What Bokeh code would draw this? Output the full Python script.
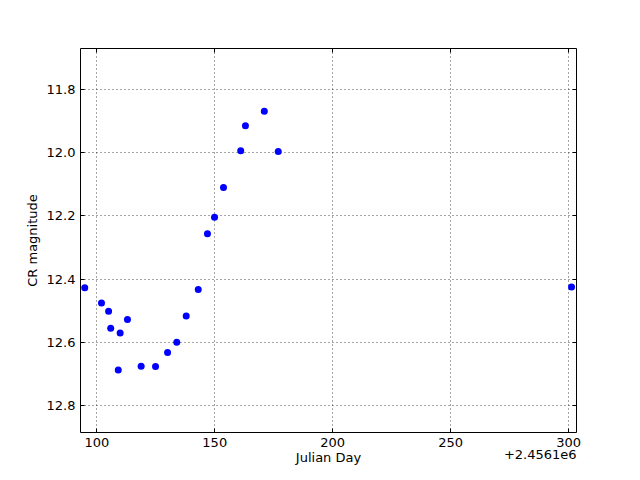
from bokeh.plotting import figure
from bokeh.models import (Range1d, FixedTicker, LinearAxis,
                          CustomJSTickFormatter, ColumnDataSource)
from bokeh.embed import file_html
from bokeh.resources import INLINE

JD_OFFSET = 2456100
OFFSET_TEXT = "+2.4561e6"
julian_day = [2456194.9, 2456202.0, 2456205.0, 2456205.9, 2456209.1, 2456209.9,
              2456213.0, 2456218.8, 2456224.9, 2456230.0, 2456233.9, 2456237.9,
              2456243.0, 2456246.9, 2456249.9, 2456253.7, 2456261.0, 2456263.0,
              2456271.0, 2456276.9, 2456401.2]
cr_mag = [12.428, 12.476, 12.502, 12.556, 12.688, 12.571,
          12.528, 12.676, 12.677, 12.633, 12.600, 12.517,
          12.433, 12.257, 12.204, 12.110, 11.994, 11.915,
          11.869, 11.996, 12.425]
x_ticks = [2456200, 2456250, 2456300, 2456350, 2456400]
y_ticks = [11.8, 12.0, 12.2, 12.4, 12.6, 12.8]

X_MIN, X_MAX = 2456193.1, 2456403.3
FRAME_W = 496
FONT = "DejaVu Sans"

p = figure(width=640, height=480, output_backend="svg", toolbar_location=None,
           x_range=Range1d(X_MIN, X_MAX), y_range=Range1d(12.886, 11.670),
           min_border_left=80, min_border_right=64, min_border_top=48, min_border_bottom=48)
p.outline_line_color = "black"
p.outline_line_width = 1
p.background_fill_color = "white"
p.border_fill_color = "white"

src = ColumnDataSource(dict(x=julian_day, y=cr_mag))
p.scatter("x", "y", source=src, size=7, fill_color="#0000ff", line_color=None)

xfmt = CustomJSTickFormatter(code="return (tick - %d).toFixed(0);" % JD_OFFSET)
yfmt = CustomJSTickFormatter(code="return tick.toFixed(1);")
blank = CustomJSTickFormatter(code="return '';")

def style_axis(ax):
    ax.axis_line_color = None
    ax.major_tick_in = 4
    ax.major_tick_out = 0
    ax.minor_tick_line_color = None
    ax.major_tick_line_color = "black"
    ax.major_label_text_font = FONT
    ax.major_label_text_color = "black"
    ax.major_label_text_font_size = "13px"
    ax.major_label_standoff = 5
    ax.axis_label_text_font = FONT
    ax.axis_label_text_font_size = "13px"
    ax.axis_label_text_font_style = "normal"
    ax.axis_label_text_color = "black"

xa = p.xaxis[0]
xa.ticker = FixedTicker(ticks=x_ticks)
xa.formatter = xfmt
xa.axis_label = "Julian Day"
style_axis(xa)
xa.axis_label_standoff = 0

ya = p.yaxis[0]
ya.ticker = FixedTicker(ticks=y_ticks)
ya.formatter = yfmt
ya.axis_label = "CR magnitude"
style_axis(ya)
ya.axis_label_standoff = 4

top = LinearAxis(ticker=FixedTicker(ticks=x_ticks), formatter=blank)
style_axis(top)
p.add_layout(top, "above")
right = LinearAxis(ticker=FixedTicker(ticks=y_ticks), formatter=blank)
style_axis(right)
p.add_layout(right, "right")

# offset text (matplotlib style) drawn as a tick label of an extra axis,
# centred ~36px left of the frame's right edge so that it ends at the edge
half_text_px = 36.3
off_pos = X_MAX - half_text_px * (X_MAX - X_MIN) / FRAME_W
off_axis = LinearAxis(ticker=FixedTicker(ticks=[off_pos]),
                      formatter=CustomJSTickFormatter(code="return '%s';" % OFFSET_TEXT))
style_axis(off_axis)
off_axis.major_tick_line_color = None
off_axis.major_label_standoff = -18
p.add_layout(off_axis, "below")

p.xgrid.ticker = FixedTicker(ticks=x_ticks)
p.ygrid.ticker = FixedTicker(ticks=y_ticks)
for g in (p.xgrid[0], p.ygrid[0]):
    g.grid_line_color = "black"
    g.grid_line_alpha = 0.7
    g.grid_line_dash = "1 3"
    g.grid_line_width = 1

open("out.html", "w").write(file_html(p, INLINE))
